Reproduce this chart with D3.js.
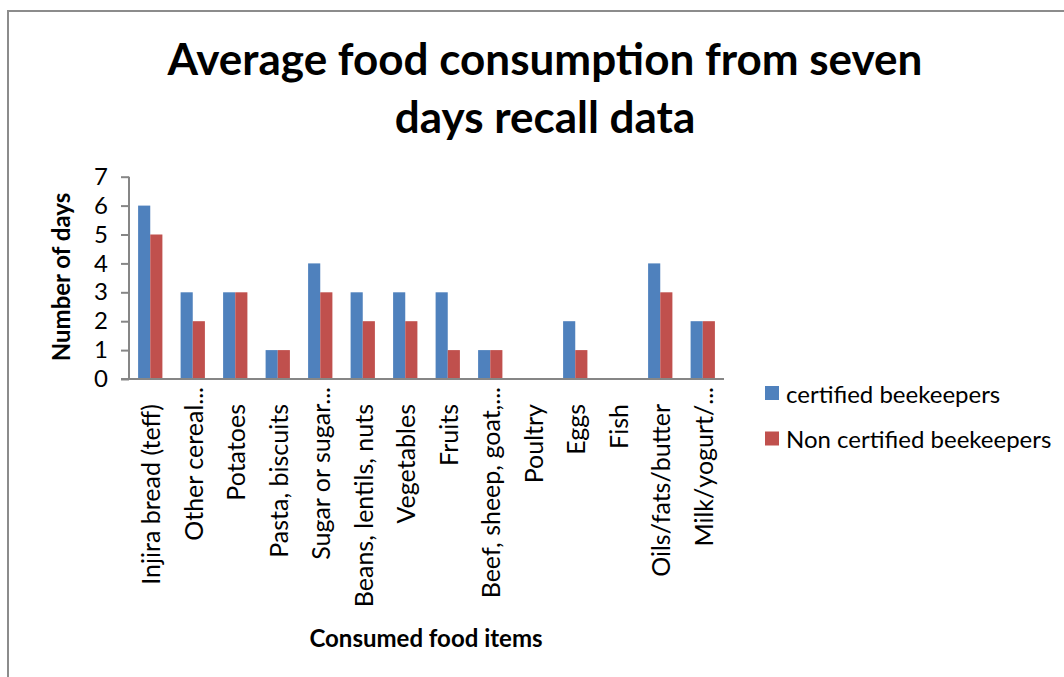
<!DOCTYPE html>
<html>
<head>
<meta charset="utf-8">
<script src="https://cdn.jsdelivr.net/npm/d3@7"></script>
<style>
  html, body { margin: 0; padding: 0; background: #fff; }
  svg { display: block; font-family: Lato, "Open Sans", sans-serif; }
</style>
</head>
<body>
<svg id="chart" width="1064" height="677"></svg>
<script>
// Food groups recalled over seven days
const categories = [
  "Injira bread (teff)", "Other cereal...", "Potatoes", "Pasta, biscuits",
  "Sugar or sugar...", "Beans, lentils, nuts", "Vegetables", "Fruits",
  "Beef, sheep, goat,...", "Poultry", "Eggs", "Fish", "Oils/fats/butter",
  "Milk/yogurt/..."
];
const seriesNames = ["certified beekeepers", "Non certified beekeepers"];
const certified    = [6, 3, 3, 1, 4, 3, 3, 3, 1, 0, 2, 0, 4, 2];
const nonCertified = [5, 2, 3, 1, 3, 2, 2, 1, 1, 0, 1, 0, 3, 2];
const yTicks = [0, 1, 2, 3, 4, 5, 6, 7];
const titleLines = ["Average food consumption from seven", "days recall data"];

const colors = ["#4F81BD", "#C0504D"];
const axisColor = "#868686";

const svg = d3.select("#chart");

// outer chart frame
svg.append("rect")
  .attr("x", 8).attr("y", 11)
  .attr("width", 1070).attr("height", 690)
  .attr("fill", "none").attr("stroke", "#8c8c8c").attr("stroke-width", 2);

// title
svg.append("g").selectAll("text").data(titleLines).join("text")
  .attr("x", 545).attr("y", (d, i) => 75 + i * 58)
  .attr("text-anchor", "middle")
  .attr("font-weight", "bold").attr("font-size", 44)
  .attr("fill", "#000")
  .text(d => d);

const plot = { left: 129, right: 724, top: 176.7, bottom: 379 };

const x0 = d3.scaleBand()
  .domain(categories)
  .range([plot.left, plot.right])
  .paddingInner(1.5 / 3.5)
  .paddingOuter(0.75 / 3.5);

const x1 = d3.scaleBand()
  .domain(seriesNames)
  .range([0, x0.bandwidth()]);

const y = d3.scaleLinear().domain([0, 7]).range([plot.bottom, plot.top]);

const rows = categories.map((c, i) => ({ cat: c, vals: [certified[i], nonCertified[i]] }));

// bars
const groups = svg.append("g").selectAll("g").data(rows).join("g")
  .attr("transform", d => `translate(${x0(d.cat)},0)`);
groups.selectAll("rect")
  .data(d => d.vals.map((v, j) => ({ name: seriesNames[j], v, j })))
  .join("rect")
  .attr("x", d => x1(d.name))
  .attr("width", x1.bandwidth())
  .attr("y", d => y(d.v))
  .attr("height", d => plot.bottom - y(d.v))
  .attr("fill", d => colors[d.j]);

// y axis
const yAxis = svg.append("g")
  .attr("transform", `translate(${plot.left},0)`)
  .call(d3.axisLeft(y).tickValues(yTicks).tickFormat(d3.format("d")).tickSize(8).tickPadding(13));
yAxis.select(".domain").attr("stroke", axisColor).attr("stroke-width", 2)
  .attr("d", `M0,${plot.top}V${plot.bottom}`);
yAxis.selectAll(".tick line").attr("stroke", axisColor).attr("stroke-width", 2);
yAxis.selectAll(".tick text").attr("font-size", 24).attr("fill", "#000")
  .attr("font-family", "Lato, 'Open Sans', sans-serif");

// x axis baseline
const xAxis = svg.append("g")
  .attr("transform", `translate(0,${plot.bottom})`)
  .call(d3.axisBottom(x0).tickSize(0).tickFormat(""));
xAxis.select(".domain").attr("stroke", axisColor).attr("stroke-width", 2)
  .attr("d", `M${plot.left - 8},0H${plot.right}`);

// category labels, rotated
svg.append("g").selectAll("text").data(categories).join("text")
  .attr("transform", d => {
    const cx = x0(d) + x0.bandwidth() / 2;
    const top = d.endsWith("...") ? 387 : 404;
    return `translate(${cx},${top}) rotate(-90)`;
  })
  .attr("text-anchor", "end")
  .attr("dominant-baseline", "central")
  .attr("font-size", 25).attr("fill", "#000")
  .text(d => d);

// axis titles
svg.append("text")
  .attr("transform", "translate(60,277) rotate(-90)")
  .attr("text-anchor", "middle").attr("dominant-baseline", "central")
  .attr("font-weight", "bold").attr("font-size", 24)
  .text("Number of days");

svg.append("text")
  .attr("x", 426).attr("y", 637)
  .attr("text-anchor", "middle").attr("dominant-baseline", "central")
  .attr("font-weight", "bold").attr("font-size", 24)
  .text("Consumed food items");

// legend
const legend = svg.append("g").selectAll("g").data(seriesNames).join("g")
  .attr("transform", (d, i) => `translate(765,${393 + i * 45.5})`);
legend.append("rect")
  .attr("x", 0).attr("y", -7).attr("width", 14).attr("height", 14)
  .attr("fill", (d, i) => colors[i]);
legend.append("text")
  .attr("x", 21).attr("y", 0)
  .attr("dominant-baseline", "central")
  .attr("font-size", 24).attr("fill", "#000")
  .text(d => d);
</script>
</body>
</html>
